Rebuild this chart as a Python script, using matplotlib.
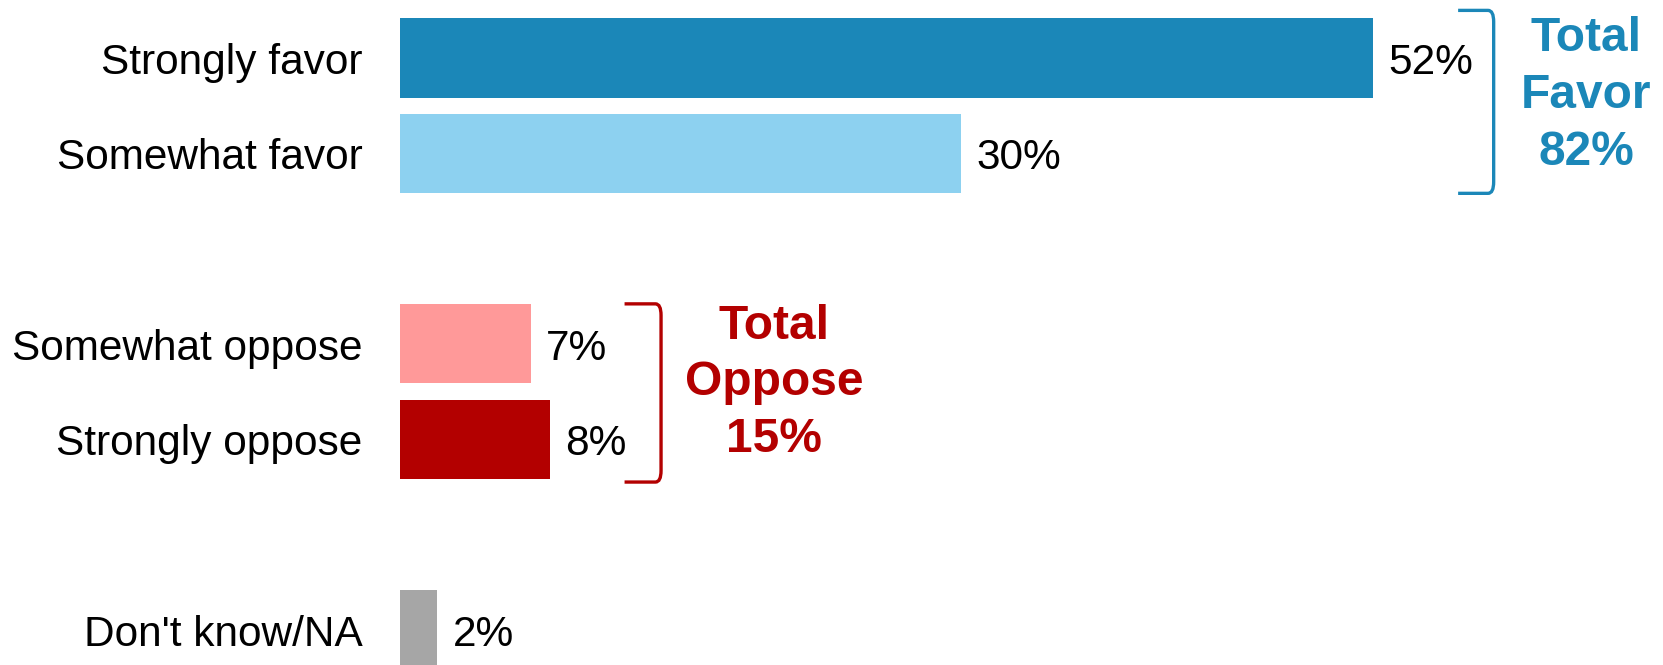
import matplotlib
matplotlib.use('agg')
import matplotlib.pyplot as plt
from matplotlib.path import Path
from matplotlib.patches import PathPatch

plt.rcParams['font.family'] = ['Liberation Sans', 'DejaVu Sans']

categories = ["Strongly favor", "Somewhat favor", "Somewhat oppose", "Strongly oppose", "Don't know/NA"]
values = [52, 30, 7, 8, 2]
positions = [0, 1, 3, 4, 6]
colors = ["#1b87b8", "#8dd1f0", "#ff9999", "#b30000", "#a6a6a6"]

total_favor = 82
total_oppose = 15
blue = "#1b87b8"
red = "#b30000"

fig = plt.figure(figsize=(16.63, 6.65), dpi=100)
ax = fig.add_axes([0, 0, 1, 1])
ax.barh(positions, values, height=0.83, color=colors)
ax.set_xlim(-21.38, 67.5)
ax.set_ylim(6.37, -0.609)
ax.axis('off')

# small downward nudge so text sits like the original
dy = 0.05
for p, v, c in zip(positions, values, categories):
    ax.text(-2.0, p + dy, c, ha='right', va='center', fontsize=30.5)
    ax.text(v + 0.8, p + dy, "%d%%" % v, ha='left', va='center', fontsize=30.5)

# brackets with slightly rounded corners
def bracket(x0, x1, y0, y1, color):
    r = 0.12
    verts = [(x0, y0), (x1 - 0.3, y0), (x1, y0), (x1, y0 + r),
             (x1, y1 - r), (x1, y1), (x1 - 0.3, y1), (x0, y1)]
    codes = [Path.MOVETO, Path.LINETO, Path.CURVE3, Path.CURVE3,
             Path.LINETO, Path.CURVE3, Path.CURVE3, Path.LINETO]
    ax.add_patch(PathPatch(Path(verts, codes), fill=False, edgecolor=color,
                           linewidth=2.4, capstyle='butt'))

bracket(56.55, 58.45, -0.5, 1.42, blue)
bracket(12.0, 13.95, 2.58, 4.45, red)

ax.text(63.4, 0.39, "Total\nFavor\n%d%%" % total_favor, ha='center', va='center',
        fontsize=34.5, fontweight='bold', color=blue, linespacing=1.34)
ax.text(20.0, 3.41, "Total\nOppose\n%d%%" % total_oppose, ha='center', va='center',
        fontsize=34.5, fontweight='bold', color=red, linespacing=1.34)

fig.savefig("out.png", dpi=100)
